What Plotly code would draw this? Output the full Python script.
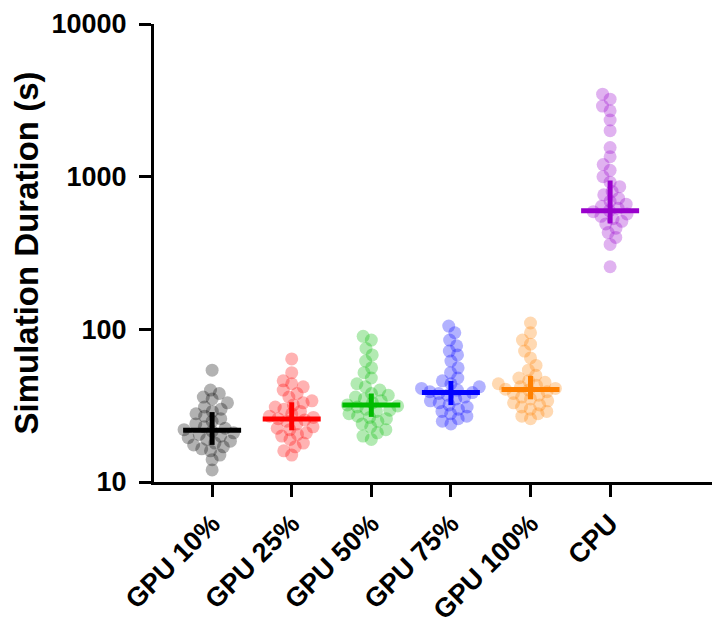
import numpy as np
import plotly.graph_objects as go

categories = ["GPU 10%", "GPU 25%", "GPU 50%", "GPU 75%", "GPU 100%", "CPU"]
colors = ["#000000", "#ff0000", "#00bb00", "#0000ff", "#ff8000", "#9900cc"]

gpu10 = [54, 40, 38, 36, 35, 33, 31, 30, 29, 28, 27, 26, 25, 24, 23, 22.5, 22, 21.5,
         21, 20.5, 20, 19.5, 19, 18.5, 18, 17.5, 17, 16.5, 16, 15, 14, 12]
gpu25 = [64, 52, 46, 44, 42, 40, 38, 36, 34, 33, 32, 31, 30, 29, 28, 27, 26.5, 26,
         25.5, 25, 24, 23, 22.5, 22, 21, 20.5, 20, 19, 18, 17, 16, 15]
gpu50 = [90, 85, 75, 68, 62, 56, 52, 48, 44, 42, 40, 38, 37, 36, 35, 34, 33, 32,
         31.5, 31, 30, 29.5, 29, 28, 27, 26.5, 26, 25, 24, 23, 22, 21, 20, 19]
gpu75 = [105, 95, 85, 78, 72, 68, 62, 56, 52, 48, 46, 44, 42, 41, 40, 39, 38.5, 38,
         37, 36, 35, 34, 33, 32, 31, 30, 29, 28, 27, 26, 25, 24]
gpu100 = [110, 95, 85, 80, 72, 65, 58, 54, 50, 48, 46, 45, 44, 43, 42, 41, 40.5, 40,
          39, 38, 37, 36, 35, 34, 33, 32, 31, 30, 29, 28, 27, 26]
cpu = [3470, 3220, 2900, 2700, 2350, 2000, 1550, 1350, 1200, 1100, 1000, 920, 860,
       800, 760, 720, 690, 660, 640, 620, 600, 590, 570, 550, 530, 510, 490, 460,
       430, 400, 360, 257]
series = [gpu10, gpu25, gpu50, gpu75, gpu100, cpu]

medians = [21.8, 25.9, 31.9, 38.5, 40.3, 598]
err_low = [17.5, 21.8, 26.7, 31.9, 34.8, 494]
err_high = [28.7, 33.3, 38.0, 45.9, 49.5, 944]

# layout geometry (pixels)
W, H = 720, 633
ML, MR, MT, MB = 146, 16, 16, 159
XR = [-0.73, 6.28]
YR = [1, 4]
px_per_cat = (W - ML - MR) / (XR[1] - XR[0])
px_per_dec = (H - MT - MB) / (YR[1] - YR[0])


def beeswarm(vals, spacing=9.0):
    y = np.log10(np.array(vals, dtype=float)) * px_per_dec
    order = np.argsort(y)
    placed = []
    xs = np.zeros(len(y))
    for k, idx in enumerate(order):
        yi = y[idx]
        cands = [0.0]
        for (xj, yj) in placed:
            dy = abs(yi - yj)
            if dy < spacing:
                dx = np.sqrt(spacing ** 2 - dy ** 2)
                cands += [xj + dx, xj - dx]
        cands = sorted(cands, key=lambda c: (abs(c), c if k % 2 else -c))
        for c in cands:
            ok = all((c - xj) ** 2 + (yi - yj) ** 2 >= spacing ** 2 - 1e-6
                     for (xj, yj) in placed)
            if ok:
                xs[idx] = c
                placed.append((c, yi))
                break
    return xs / px_per_cat


fig = go.Figure()
half = 29 / px_per_cat
for i, (vals, col) in enumerate(zip(series, colors)):
    off = beeswarm(vals)
    fig.add_trace(go.Scatter(
        x=i + off, y=vals, mode="markers",
        marker=dict(size=13, color=col, opacity=0.3, line=dict(width=0)),
        showlegend=False, hoverinfo="y", cliponaxis=False))
for i, col in enumerate(colors):
    fig.add_trace(go.Scatter(
        x=[i - half, i + half], y=[medians[i], medians[i]], mode="lines",
        line=dict(color=col, width=5), showlegend=False, hoverinfo="skip"))
    fig.add_trace(go.Scatter(
        x=[i, i], y=[err_low[i], err_high[i]], mode="lines",
        line=dict(color=col, width=5), showlegend=False, hoverinfo="skip"))

font_fam = "Arial, Liberation Sans, sans-serif"
fig.update_layout(
    width=W, height=H,
    margin=dict(l=ML, r=MR, t=MT, b=MB),
    plot_bgcolor="white", paper_bgcolor="white",
    font=dict(family=font_fam, color="black", weight="bold"),
)
fig.update_xaxes(
    range=XR, tickmode="array", tickvals=list(range(len(categories))),
    ticktext=categories, tickangle=-45, automargin=False,
    showline=True, linecolor="black", linewidth=3,
    ticks="outside", ticklen=12, tickwidth=3, tickcolor="black",
    showgrid=False, zeroline=False, ticklabeloverflow="allow",
    tickfont=dict(size=27, family=font_fam, weight="bold"),
)
fig.update_yaxes(
    type="log", range=YR, tickmode="array",
    tickvals=[10, 100, 1000, 10000], ticktext=["10", "100", "1000", "10000"],
    showline=True, linecolor="black", linewidth=3, automargin=False,
    ticks="outside", ticklen=12, tickwidth=3, tickcolor="black",
    ticklabelstandoff=7, ticklabeloverflow="allow",
    showgrid=False, zeroline=False,
    tickfont=dict(size=27, family=font_fam, weight="bold"),
    title=dict(text="Simulation Duration (s)",
               font=dict(size=33, family=font_fam, weight="bold"), standoff=10),
)
fig.write_html("out.html")
